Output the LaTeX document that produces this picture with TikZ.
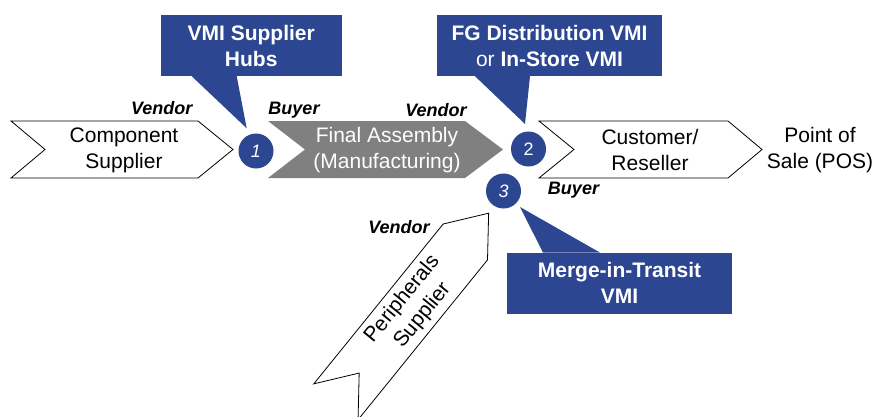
\documentclass[tikz,border=0pt]{standalone}
\usepackage{fontspec}
\setmainfont{Liberation Sans}
\definecolor{vmiblue}{RGB}{44,70,146}
\definecolor{asmgray}{RGB}{128,128,128}
\newcommand{\chevronpath}[3]{(0,-28.5) -- (#1,-28.5) -- ({#1+#2},0) -- (#1,28.5) -- (0,28.5) -- (#3,0) -- cycle}
\tikzset{
  chev/.style={draw=black, line width=0.8pt, fill=white, line join=miter},
  chevtext/.style={align=center, font=\fontsize{21}{26}\selectfont},
  role/.style={font=\fontsize{18}{20}\selectfont\bfseries\itshape},
  hub/.style={circle, fill=vmiblue, minimum size=35pt, inner sep=0pt, text=white, font=\fontsize{18}{18}\selectfont},
  callout/.style={fill=vmiblue, text=white, align=center, minimum height=61pt, inner sep=0pt, font=\fontsize{21}{26}\selectfont\bfseries},
}
\begin{document}
\begin{tikzpicture}[x=1pt, y=-1pt, line join=round]
	\useasboundingbox (0,0) rectangle (877,417);
	% chevrons
	\draw[chev, shift={(11,149.5)}] \chevronpath{187}{35}{34};
	\fill[asmgray, shift={(268,149.5)}] \chevronpath{197}{38}{37};
	\draw[chev, shift={(539,149.5)}] \chevronpath{189}{34}{35};
	\draw[chev, shift={(335.9,401.8)}, rotate=51] \chevronpath{205.7}{37}{37};
	\node[chevtext] (comp) at (124,150) {Component\\Supplier};
	\node[chevtext, text=white] (asm) at (387,150) {Final Assembly\\(Manufacturing)};
	\node[chevtext] (cust) at (650,150) {Customer/\\Reseller};
	\node[chevtext, rotate=51] (peri) at (412.5,307.4) {Peripherals\\Supplier};
	\node[chevtext] (pos) at (820,150) {Point of\\Sale (POS)};
	% vendor / buyer
	\node[role] (v1) at (161.7,108.3) {Vendor};
	\node[role] (b1) at (294,110) {Buyer};
	\node[role] (v2) at (436,110) {Vendor};
	\node[role] (b2) at (573.5,190) {Buyer};
	\node[role] (v3) at (399,226.7) {Vendor};
	% hubs
	\node[hub] (h1) at (256,151) {\textit{1}};
	\node[hub] (h2) at (528.5,149) {2};
	\node[hub] (h3) at (503.5,191) {\textit{3}};
	% callouts
	\node[callout, minimum width=181pt] (c1) at (251.2,45.5) {VMI Supplier\\Hubs};
	\node[callout, minimum width=225pt] (c2) at (549.5,45.5) {FG Distribution VMI\\{\mdseries or} In-Store VMI};
	\node[callout, minimum width=225pt] (c3) at (619.5,283.3) {Merge-in-Transit\\VMI};
	\coordinate (t1) at (246.7,128.3);
	\coordinate (t2) at (525,124);
	\coordinate (t3) at (520,207);
	\fill[vmiblue] ([xshift=-59.5]c1.south) -- (t1) -- ([xshift=-14.5]c1.south) -- cycle;
	\fill[vmiblue] ([xshift=-74.5]c2.south) -- (t2) -- ([xshift=-19.5]c2.south) -- cycle;
	\fill[vmiblue] ([xshift=-76.5]c3.north) -- (t3) -- ([xshift=-19.5]c3.north) -- cycle;
\end{tikzpicture}
\end{document}
